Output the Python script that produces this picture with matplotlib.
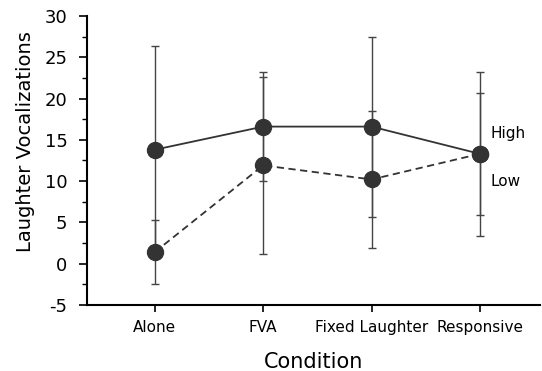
import matplotlib
matplotlib.use("Agg")
import matplotlib.pyplot as plt
from matplotlib.ticker import MultipleLocator

conditions = ["Alone", "FVA", "Fixed Laughter", "Responsive"]
high_mean = [13.8, 16.6, 16.6, 13.3]
high_err = [12.6, 6.6, 10.9, 9.9]
low_mean = [1.4, 11.9, 10.2, 13.3]
low_err = [3.9, 10.7, 8.3, 7.4]

plt.rcParams['font.family'] = ['DejaVu Sans']
plt.rcParams['axes.unicode_minus'] = False

fig = plt.figure(figsize=(5.42, 3.71), dpi=100)
ax = fig.add_axes([0.1605, 0.178, 0.835, 0.779])

x = list(range(1, len(conditions) + 1))
col = "#333333"
ax.errorbar(x, high_mean, yerr=high_err, fmt='-o', color=col, ecolor='#444444',
            elinewidth=1.0, capsize=3, capthick=1.0, lw=1.3, markersize=11.5, zorder=3)
ax.errorbar(x, low_mean, yerr=low_err, fmt='--o', color=col, ecolor='#444444',
            elinewidth=1.0, capsize=3, capthick=1.0, lw=1.3, markersize=11.5,
            dashes=(4, 2.5), zorder=3)

ax.text(4.1, 15.8, "High", fontsize=11, va='center', ha='left')
ax.text(4.1, 9.9, "Low", fontsize=11, va='center', ha='left')

ax.set_xlim(0.375, 4.55)
ax.set_ylim(-5, 30)
ax.set_xticks(x)
ax.set_xticklabels(conditions, fontsize=11)
ax.yaxis.set_major_locator(MultipleLocator(5))
ax.yaxis.set_minor_locator(MultipleLocator(2.5))
ax.tick_params(axis='y', labelsize=13, direction='out', length=6, width=1.2, pad=8)
ax.tick_params(axis='y', which='minor', direction='out', length=3.5, width=1.0)
ax.tick_params(axis='x', direction='out', length=5, width=1.2, pad=6)
for s in ['top', 'right']:
    ax.spines[s].set_visible(False)
for s in ['left', 'bottom']:
    ax.spines[s].set_linewidth(1.5)
ax.set_ylabel("Laughter Vocalizations", fontsize=14)
ax.yaxis.set_label_coords(-0.115, 0.564)
ax.set_xlabel("Condition", fontsize=15, labelpad=12)

fig.savefig("out.png", dpi=100)
